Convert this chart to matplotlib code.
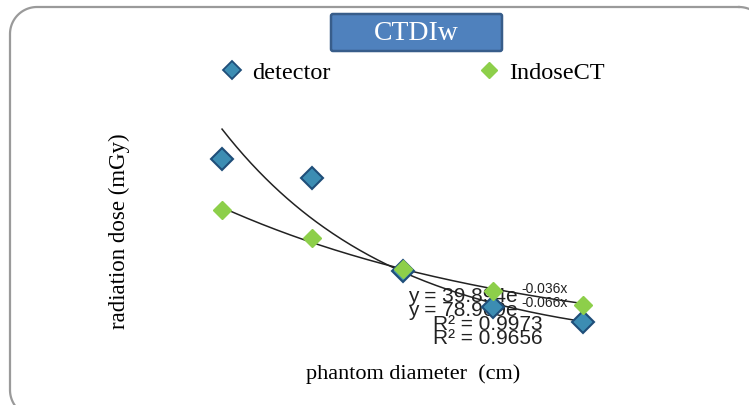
import numpy as np
import matplotlib.pyplot as plt
from matplotlib.patches import FancyBboxPatch
from matplotlib.lines import Line2D

diameter = [8, 16, 24, 32, 40]
detector = [40.2, 36.2, 16.4, 8.7, 5.5]
indosect = [29.4, 23.4, 16.8, 12.1, 9.1]

# exponential trendlines as printed on the chart
det_a, det_b, det_r2 = 78.969, -0.066, 0.9656
ind_a, ind_b, ind_r2 = 39.894, -0.036, 0.9973

det_col = '#3C8DB3'
det_edge = '#1F4E79'
ind_col = '#8DCF4A'
serif = ['Liberation Serif', 'DejaVu Serif']
sans = ['Liberation Sans', 'DejaVu Sans']

W, H = 749, 406
fig = plt.figure(figsize=(W / 100, H / 100), dpi=100)

# background layer in pixel coords: frame, title box, equations
bg = fig.add_axes([0, 0, 1, 1])
bg.set_xlim(0, W)
bg.set_ylim(H, 0)
bg.axis('off')


def rounded_outline(x0, y0, x1, y1, r):
    t = np.linspace(0, np.pi / 2, 30)
    px, py = [], []
    for cx, cy, a in [(x1 - r, y0 + r, -np.pi / 2), (x1 - r, y1 - r, 0),
                      (x0 + r, y1 - r, np.pi / 2), (x0 + r, y0 + r, np.pi)]:
        px += list(cx + r * np.cos(a + t))
        py += list(cy + r * np.sin(a + t))
    return px + px[:1], py + py[:1]


fx, fy = rounded_outline(10, 8, 766, 418, 27)
bg.plot(fx, fy, color='#9a9a9a', lw=1.6, clip_on=True)

tbox = FancyBboxPatch((331, 15), 171, 37, boxstyle='round,pad=0,rounding_size=2',
                      fc='#4F81BD', ec='#385D8A', lw=1.8)
bg.add_patch(tbox)
bg.text(416.5, 34, 'CTDIw', color='white', fontsize=20, family=serif,
        ha='center', va='center')

ax = fig.add_axes([131.8 / W, (H - 349) / H, 507.6 / W, 235 / H])
ax.set_xlim(0, 45)
ax.set_ylim(0, 50)
for s in ax.spines.values():
    s.set_visible(False)
ax.set_xticks([])
ax.set_yticks([])
ax.patch.set_alpha(0)

xs = np.linspace(diameter[0], diameter[-1], 200)
ax.plot(xs, det_a * np.exp(det_b * xs), color='#222222', lw=1.1)
ax.plot(xs, ind_a * np.exp(ind_b * xs), color='#222222', lw=1.1)
ax.plot(diameter, detector, 'D', ms=11, mfc=det_col, mec=det_edge, mew=1.5, ls='none')
ax.plot(diameter, indosect, 'D', ms=9, mfc=ind_col, mec=ind_col, ls='none')

ax.set_xlabel('phantom diameter  (cm)', fontsize=16, family=serif)
ax.xaxis.set_label_coords((413 - 131.8) / 507.6, -15 / 235)
ax.set_ylabel('radiation dose (mGy)', fontsize=16.5, family=serif)
ax.yaxis.set_label_coords(-(131.8 - 130) / 507.6, 0.5)

# trendline equations (overlapping, as in the source)
eq = [(408, 302, 'y = %.3fe' % ind_a, '%.3fx' % ind_b),
      (408, 316, 'y = %.3fe' % det_a, '%.3fx' % det_b)]
for x0, y0, main, sup in eq:
    bg.text(x0, y0, main, fontsize=15, family=sans, va='baseline', color='#222222')
    bg.text(521, y0 - 9, sup, fontsize=10, family=sans, va='baseline', color='#222222')
bg.text(433, 330, 'R² = %.4f' % ind_r2, fontsize=15, family=sans, va='baseline', color='#222222')
bg.text(433, 344, 'R² = %.4f' % det_r2, fontsize=15, family=sans, va='baseline', color='#222222')

handles = [Line2D([], [], marker='D', ls='none', ms=9, mfc=det_col, mec=det_edge, mew=1.3),
           Line2D([], [], marker='D', ls='none', ms=8, mfc=ind_col, mec=ind_col)]
fig.legend(handles, ['detector', 'IndoseCT'], ncol=2, frameon=False,
           loc='center', bbox_to_anchor=(411 / W, 1 - 73 / H),
           prop={'family': serif, 'size': 17.5}, handletextpad=0.25,
           columnspacing=5.9, handlelength=1.2)

fig.savefig('out.png', dpi=100)
